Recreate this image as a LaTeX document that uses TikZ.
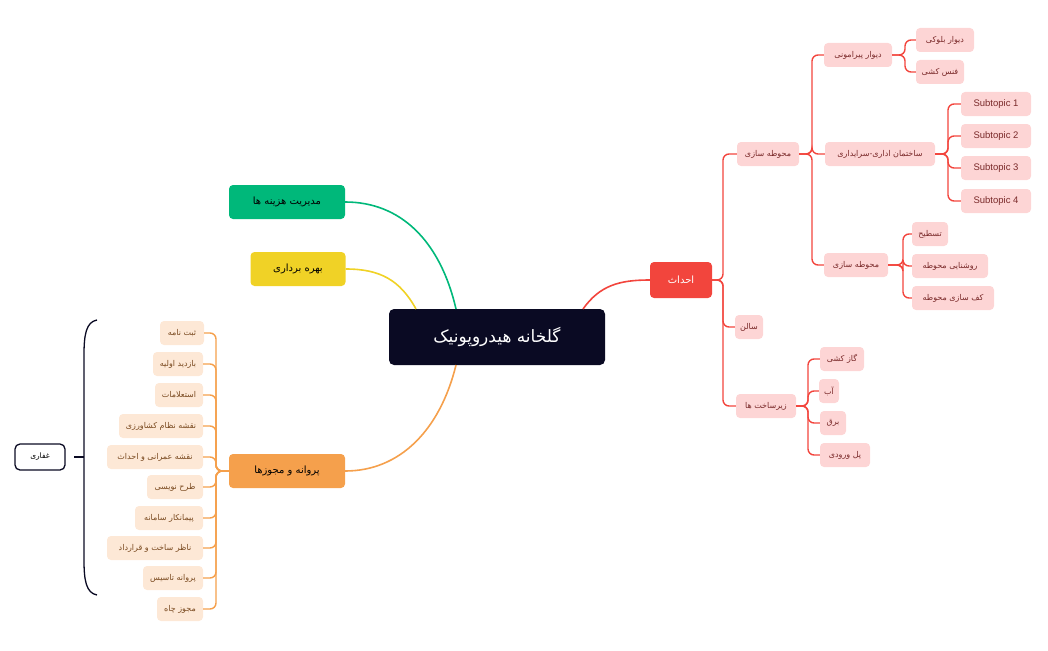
\documentclass[tikz,border=0pt]{standalone}
\usepackage{fontspec}
\setmainfont{Liberation Sans}
\newfontfamily\arabicfont[Script=Arabic]{DejaVu Sans}
\TeXXeTstate=1
\newcommand{\ar}[1]{{\arabicfont\beginR #1\endR}}
\definecolor{navy}{HTML}{0A0A23}
\definecolor{rline}{HTML}{F2453D}
\definecolor{rfill}{HTML}{FDD5D5}
\definecolor{rtext}{HTML}{7A2A2A}
\definecolor{oline}{HTML}{F5A04C}
\definecolor{ofill}{HTML}{FDE8D6}
\definecolor{otext}{HTML}{7A4A20}
\definecolor{gmain}{HTML}{00B87A}
\definecolor{ymain}{HTML}{F0D226}
\begin{document}
\begin{tikzpicture}[x=1pt,y=-1pt,
  rbox/.style={fill=rfill,text=rtext,rounded corners=4pt,minimum height=24pt,inner xsep=3pt,font=\fontsize{8}{9}\selectfont},
  obox/.style={fill=ofill,text=otext,rounded corners=4pt,minimum height=24pt,inner xsep=3pt,font=\fontsize{8}{9}\selectfont},
  mainbox/.style={rounded corners=4pt,minimum height=34pt,font=\fontsize{10}{12}\selectfont},
  rl/.style={draw=rline,line width=1.4pt,rounded corners=6pt},
  ol/.style={draw=oline,line width=1.4pt,rounded corners=6pt}]
\useasboundingbox (0,0) rectangle (1048,650);
% central
\node[fill=navy,text=white,rounded corners=5pt,minimum width=216pt,minimum height=56pt,font=\fontsize{17}{20}\selectfont] (c) at (497,337) {\ar{گلخانه هیدروپونیک}};
\node[mainbox,fill=rline,text=white,minimum width=62pt,minimum height=36pt] (ah) at (681,280) {\ar{احداث}};
\node[mainbox,fill=gmain,text=black,minimum width=116pt] (g) at (287,202) {\ar{مدیریت هزینه ها}};
\node[mainbox,fill=ymain,text=black,minimum width=95pt] (y) at (298,269) {\ar{بهره برداری}};
\node[mainbox,fill=oline,text=black,minimum width=116pt] (o) at (287,471) {\ar{پروانه و مجوزها}};
\draw[draw=gmain,line width=1.6pt] (456,309) .. controls (440,240) and (400,202) .. (g.east);
\draw[draw=ymain,line width=1.6pt] (416,309) .. controls (400,280) and (380,269) .. (y.east);
\draw[draw=oline,line width=1.6pt] (456,365) .. controls (440,430) and (400,471) .. (o.east);
\draw[draw=rline,line width=1.6pt] (583,309) .. controls (600,285) and (620,280) .. (ah.west);
% red level 2
\coordinate (s1) at (723,0);
\node[rbox,minimum width=62pt] (r1) at (768,154) {\ar{محوطه سازی}};
\node[rbox,minimum width=28pt] (r2) at (749,327) {\ar{سالن}};
\node[rbox,minimum width=60pt] (r3) at (766,406) {\ar{زیرساخت ها}};
\foreach \n in {r1,r2,r3} \draw[rl] (ah.east) -- (ah.east -| s1) |- (\n.west);
% level 3
\coordinate (s2) at (812,0);
\node[rbox,minimum width=68pt] (a1) at (858,55) {\ar{دیوار پیرامونی}};
\node[rbox,minimum width=110pt] (a2) at (880,154) {\ar{ساختمان اداری-سرایداری}};
\node[rbox,minimum width=64pt] (a3) at (856,265) {\ar{محوطه سازی}};
\foreach \n in {a1,a2,a3} \draw[rl] (r1.east) -- (r1.east -| s2) |- (\n.west);
% level 4
\coordinate (s3) at (905,0);
\node[rbox,minimum width=58pt] (b1) at (945,40) {\ar{دیوار بلوکی}};
\node[rbox,minimum width=48pt] (b2) at (940,72) {\ar{فنس کشی}};
\foreach \n in {b1,b2} \draw[rl] (a1.east) -- (a1.east -| s3) |- (\n.west);
\coordinate (s4) at (948,0);
\foreach \i/\yy in {1/104,2/136,3/168,4/201} {
  \node[rbox,minimum width=70pt,font=\fontsize{9.5}{11}\selectfont] (t\i) at (996,\yy) {Subtopic \i};
  \draw[rl] (a2.east) -- (a2.east -| s4) |- (t\i.west);}
\coordinate (s5) at (903,0);
\node[rbox,minimum width=36pt] (d1) at (930,234) {\ar{تسطیح}};
\node[rbox,minimum width=76pt] (d2) at (950,266) {\ar{روشنایی محوطه}};
\node[rbox,minimum width=82pt] (d3) at (953,298) {\ar{کف سازی محوطه}};
\foreach \n in {d1,d2,d3} \draw[rl] (a3.east) -- (a3.east -| s5) |- (\n.west);
\coordinate (s6) at (808,0);
\node[rbox,minimum width=44pt] (e1) at (842,359) {\ar{گاز کشی}};
\node[rbox,minimum width=20pt] (e2) at (829,391) {\ar{آب}};
\node[rbox,minimum width=26pt] (e3) at (833,423) {\ar{برق}};
\node[rbox,minimum width=50pt] (e4) at (845,455) {\ar{پل ورودی}};
\foreach \n in {e1,e2,e3,e4} \draw[rl] (r3.east) -- (r3.east -| s6) |- (\n.west);
% orange
\coordinate (s7) at (216,0);
\foreach \i/\xx/\yy/\w/\t in {1/182/333/44/ثبت نامه,2/178/364/50/بازدید اولیه,3/179/395/48/استعلامات,4/161/426/84/نقشه نظام کشاورزی,5/155/457/96/نقشه عمرانی و احداث,6/175/487/56/طرح نویسی,7/169/518/68/پیمانکار سامانه,8/155/548/96/ناظر ساخت و قرارداد,9/173/578/60/پروانه تاسیس,10/180/609/46/مجوز چاه} {
  \node[obox,minimum width=\w pt] (p\i) at (\xx,\yy) {\ar{\t}};
  \draw[ol] (o.west) -- (o.west -| s7) |- (p\i.east);}
% brace
\node[draw=navy,line width=1.3pt,rounded corners=5pt,minimum width=50pt,minimum height=26pt,fill=white,font=\fontsize{7.5}{9}\selectfont] (gh) at (40,457) {\ar{غفاری}};
\coordinate (bt) at (97,320);
\coordinate (bb) at (97,595);
\draw[navy,line width=1.3pt] (bt) .. controls (86,322) and (84,335) .. (84,355) -- (84,560) .. controls (84,580) and (86,593) .. (bb);
\draw[navy,line width=1.3pt] (gh.east -| 84,0) -- ([xshift=8pt]gh.east);
\end{tikzpicture}
\end{document}
